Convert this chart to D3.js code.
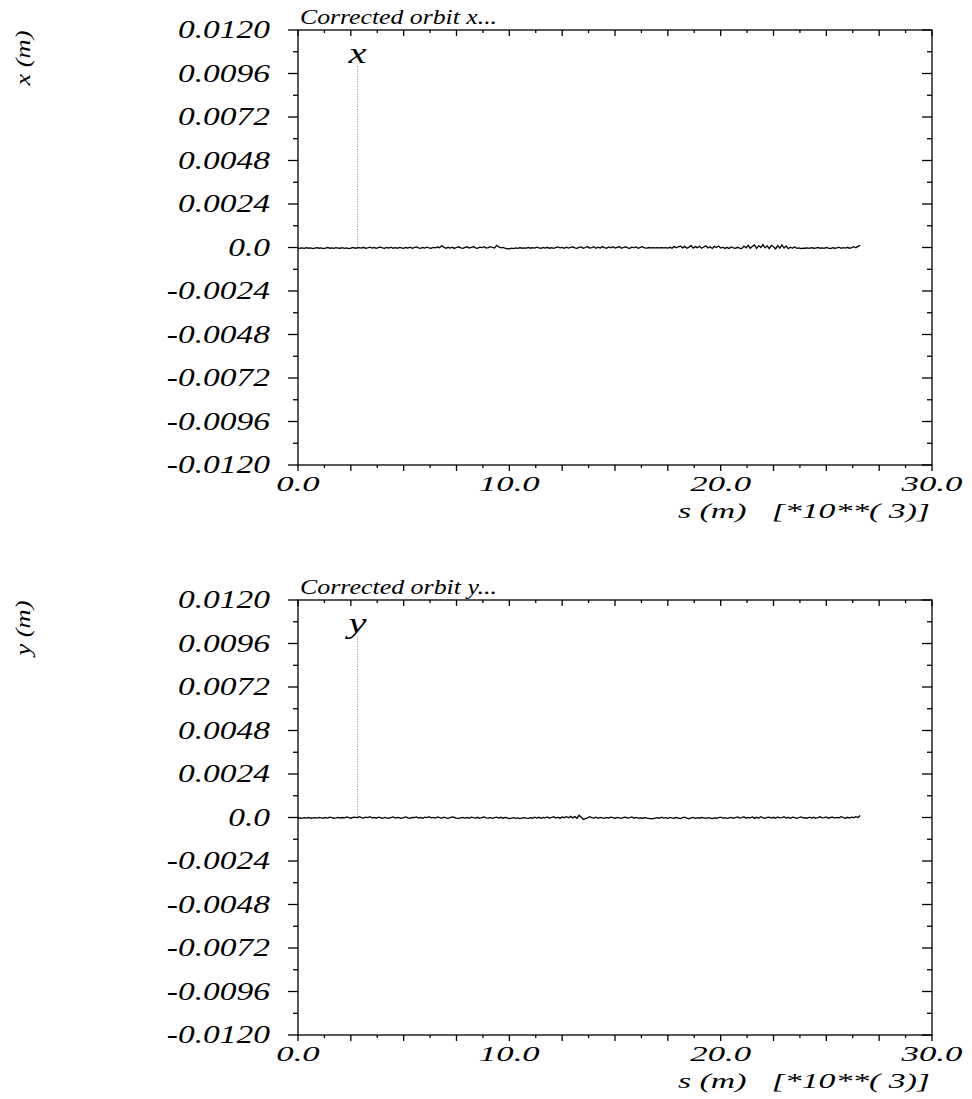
<!DOCTYPE html>
<html>
<head>
<meta charset="utf-8">
<script src="https://cdn.jsdelivr.net/npm/d3@7"></script>
<style>
  body { margin: 0; background: #fff; }
  svg { display: block; }
  text { font-family: "Liberation Serif", "Times New Roman", serif; font-style: italic; fill: #000; }
</style>
</head>
<body>
<svg id="chart" width="972" height="1099"></svg>
<script>
// Closed-orbit samples along the ring, spacing in units of 10^3 m
const sStepKm = 0.1;

// Corrected horizontal orbit, micrometres
const xOrbitUm = [
  -60,-40,-20,-50,-10,-40,-20,-60,-30,-10,
  -40,-20,-60,-30,0,-40,-20,-50,-10,-30,
  -40,-10,-50,-20,-60,-30,0,-40,-20,-10,
  -30,10,-40,-20,20,-30,0,-50,-10,20,
  -20,-50,0,-30,20,-40,-10,-40,10,-20,
  -50,0,-30,20,-40,-10,30,-20,-50,0,
  -30,20,-20,-40,10,-20,30,-10,90,20,
  -40,10,-30,20,-50,0,40,-20,-50,10,
  40,-30,0,50,-20,-40,20,-10,40,-30,
  -10,50,0,-30,120,30,-20,10,-40,-80,
  -70,-40,-60,-20,-50,-10,-40,-20,-30,0,
  -40,-10,-30,20,-20,-50,0,-30,10,-40,
  -10,-50,0,30,-20,10,-40,20,-30,0,
  40,-20,-50,10,30,-40,0,50,-30,-10,
  40,-40,20,-30,50,-10,-40,30,-20,40,
  -30,10,50,-40,0,40,-20,-50,20,-10,
  30,-40,10,50,-20,-30,0,-20,-10,-20,
  -10,-20,-10,-20,-10,-30,10,-40,60,-20,
  40,80,-20,60,-40,20,100,-30,50,-10,
  70,-40,30,90,-20,40,-50,60,0,80,
  -30,20,-50,10,-60,30,-20,-40,10,-30,
  -60,80,-20,120,-40,60,140,-50,100,0,
  160,-20,90,-60,120,40,-80,100,-40,140,
  -30,80,-60,20,-40,40,-50,-20,-60,-30,
  -40,-20,-50,-10,-40,-30,0,-40,-20,-50,
  0,-30,-60,-10,-40,-20,20,-50,-10,-30,
  10,-40,-10,40,-20,60,120
];

// Corrected vertical orbit, micrometres
const yOrbitUm = [
  -40,-20,-50,-10,-30,0,-40,-20,-10,-30,
  10,-20,-40,0,-30,20,-10,-40,-20,10,
  -30,0,-20,30,-10,-40,0,20,-20,40,
  -10,-30,20,-10,40,-20,0,-40,20,-10,
  -50,10,-20,-40,0,30,-30,10,-20,-50,
  0,30,-20,-40,10,-10,30,-30,0,-40,
  20,-10,40,-20,10,-30,30,0,-40,20,
  -20,-50,-10,30,0,-30,-50,-20,10,-30,
  0,-40,20,-10,-30,10,-50,0,30,-20,
  -30,0,-50,-10,20,-30,10,-40,0,-20,
  -60,-40,-10,-50,-20,-60,-30,-10,-40,-50,
  -10,-40,20,-30,10,-50,0,-20,30,-40,
  0,40,-30,20,-50,30,-10,40,-20,60,
  -20,50,-40,120,20,-110,-60,-20,40,-10,
  -30,20,-40,10,-20,-50,0,-30,20,-10,
  -40,10,-20,-50,0,20,-30,-10,30,-40,
  0,-30,-20,-40,-10,-30,-50,-70,-60,-40,
  -10,-40,20,-30,-10,-50,10,-20,-40,0,
  -30,-60,-10,20,-40,-70,-20,10,-50,-10,
  -40,0,-20,-50,-10,-30,-60,-20,-40,-10,
  20,-30,-10,-50,-20,10,-40,-10,30,-30,
  -10,40,-40,0,-20,30,-50,10,-30,40,
  -20,-50,0,20,-30,10,-40,30,-20,-10,
  40,-30,10,-40,20,-10,-50,0,30,-20,
  -10,-40,20,-30,10,-50,0,40,-20,-10,
  30,-40,0,20,-30,10,-20,40,-10,-40,
  10,-30,20,-10,50,0,110
];

// Marker line showing the observation point
const markerS = 2.82;
const markerTop = 0.0100;

const panelTitles = ["Corrected orbit x...", "Corrected orbit y..."];
const axisNames = ["x (m)", "y (m)"];
const curveNames = ["x", "y"];
const orbits = [xOrbitUm, yOrbitUm];

const yTickValues = [0.012, 0.0096, 0.0072, 0.0048, 0.0024, 0, -0.0024, -0.0048, -0.0072, -0.0096, -0.012];
const yTickLabels = ["0.0120", "0.0096", "0.0072", "0.0048", "0.0024", "0.0", "-0.0024", "-0.0048", "-0.0072", "-0.0096", "-0.0120"];
const sTickValues = [0, 10, 20, 30];
const sTickLabels = ["0.0", "10.0", "20.0", "30.0"];
const sAxisTitle = "s (m)   [*10**( 3)]";

const svg = d3.select("#chart");
const plotLeft = 298, plotRight = 932, plotTop = 30, plotBottom = 465;
const panelOffset = 570;

const sScale = d3.scaleLinear().domain([0, 30]).range([plotLeft, plotRight]);
const vScale = d3.scaleLinear().domain([-0.012, 0.012]).range([plotBottom, plotTop]);

// Text in the plot's stretched italic lettering
function label(g, x, y, str, size, sx, anchor) {
  return g.append("text")
    .attr("transform", `translate(${x},${y}) scale(${sx},1)`)
    .attr("text-anchor", anchor)
    .style("font-size", size + "px")
    .style("white-space", "pre")
    .text(str);
}

const yMinor = d3.range(-10, 11).map(i => i * 0.0012);
const sMinor = d3.range(0, 25).map(i => i * 1.25);

orbits.forEach((orbit, p) => {
  const g = svg.append("g").attr("transform", `translate(0,${p * panelOffset})`);

  // frame
  const frame = g.append("g").attr("stroke", "#000").attr("stroke-width", 1.3).attr("fill", "none");
  frame.append("rect")
    .attr("x", sScale(0)).attr("y", vScale(0.012))
    .attr("width", sScale(30) - sScale(0)).attr("height", vScale(-0.012) - vScale(0.012));

  // vertical ticks: outward on the left, inward on the right
  yMinor.forEach((v, i) => {
    const len = i % 2 === 0 ? 10 : 5;
    const y = vScale(v);
    frame.append("line").attr("x1", sScale(0) - len).attr("x2", sScale(0)).attr("y1", y).attr("y2", y);
    frame.append("line").attr("x1", sScale(30) - len).attr("x2", sScale(30)).attr("y1", y).attr("y2", y);
  });

  // s ticks: outward along the bottom, inward along the top
  sMinor.forEach((s, i) => {
    const len = i % 2 === 0 ? 6 : 3;
    const x = sScale(s);
    frame.append("line").attr("x1", x).attr("x2", x).attr("y1", vScale(-0.012)).attr("y2", vScale(-0.012) + len);
    frame.append("line").attr("x1", x).attr("x2", x).attr("y1", vScale(0.012)).attr("y2", vScale(0.012) + len);
  });

  // tick labels
  yTickValues.forEach((v, i) => label(g, 270, vScale(v) + 8, yTickLabels[i], 25, 1.34, "end"));
  sTickValues.forEach((s, i) => label(g, sScale(s), 491, sTickLabels[i], 22, 1.58, "middle"));

  g.append("text")
    .attr("x", 678).attr("y", 518)
    .attr("textLength", 252).attr("lengthAdjust", "spacingAndGlyphs")
    .style("font-size", "21px").style("white-space", "pre")
    .text(sAxisTitle);

  g.append("text")
    .attr("x", 300).attr("y", 24)
    .attr("textLength", 197).attr("lengthAdjust", "spacingAndGlyphs")
    .style("font-size", "22px")
    .text(panelTitles[p]);

  g.append("text")
    .attr("transform", "translate(30,58) rotate(-90)")
    .attr("text-anchor", "middle")
    .attr("textLength", 55).attr("lengthAdjust", "spacingAndGlyphs")
    .style("font-size", "22px")
    .text(axisNames[p]);

  // marker line and curve name
  g.append("line")
    .attr("x1", sScale(markerS)).attr("x2", sScale(markerS))
    .attr("y1", vScale(markerTop)).attr("y2", vScale(0))
    .attr("stroke", "#888").attr("stroke-width", 1).attr("stroke-dasharray", "1,1.5");
  label(g, sScale(markerS), 63, curveNames[p], 29, 1.4, "middle");

  // orbit trace
  const line = d3.line()
    .x((d, i) => sScale(i * sStepKm))
    .y(d => vScale(d / 1e6))
    .curve(d3.curveLinear);
  g.append("path")
    .datum(orbit)
    .attr("d", line)
    .attr("fill", "none")
    .attr("stroke", "#000")
    .attr("stroke-width", 1.3);
});
</script>
</body>
</html>
